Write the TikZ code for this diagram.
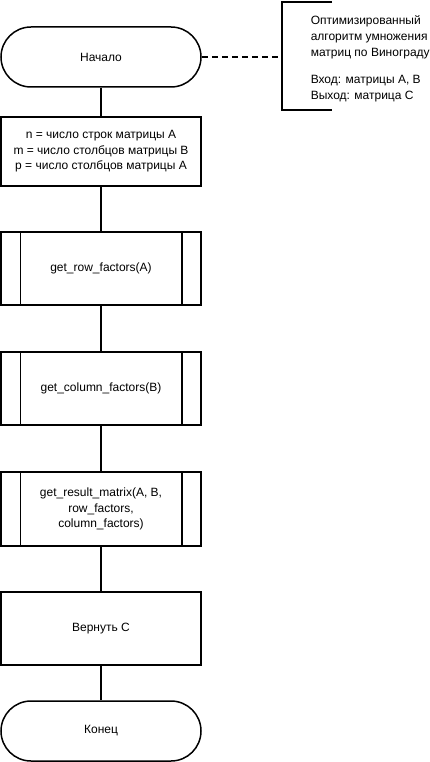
\documentclass[tikz,border=0pt]{standalone}
\usepackage{fontspec}
\setmainfont{Liberation Sans}
\begin{document}
\begin{tikzpicture}[x=1pt,y=-1pt,line width=1.5pt,
  every node/.style={font=\fontsize{12}{15}\selectfont},
  term/.style={draw,minimum width=200pt,minimum height=60pt,rounded corners=30pt,inner sep=0pt},
  procbox/.style={draw,minimum width=200pt,inner sep=0pt,align=center},
  subbox/.style={draw,minimum width=200pt,inner sep=0pt,align=center},
  link/.style={draw}]
\useasboundingbox (0,0) rectangle (429,762);
\node[term] (start) at (101,57) {Начало};
\node[procbox,minimum height=69pt] (init) at (101,151.5) {n = число строк матрицы A\\[0.5pt]m = число столбцов матрицы B\\[0.5pt]p = число столбцов матрицы A};
\node[subbox,minimum height=73pt] (s1) at (101,268.5) {get\_row\_factors(A)};
\node[subbox,minimum height=73pt] (s2) at (101,388.5) {get\_column\_factors(B)};
\node[subbox,minimum height=74pt] (s3) at (101,509) {get\_result\_matrix(A, B,\\[0.5pt]row\_factors,\\[0.5pt]column\_factors)};
\node[procbox,minimum height=73pt] (ret) at (101,628.5) {Вернуть C};
\node[term] (stop) at (101,731) {Конец};
\foreach \n in {s1,s2,s3}{
  \draw ([xshift=20pt]\n.north west) -- ([xshift=20pt]\n.south west);
  \draw ([xshift=-20pt]\n.north east) -- ([xshift=-20pt]\n.south east);
}
\draw[link] (start) -- (init);
\draw[link] (init) -- (s1);
\draw[link] (s1) -- (s2);
\draw[link] (s2) -- (s3);
\draw[link] (s3) -- (ret);
\draw[link] (ret) -- (stop);
\coordinate (ctop) at (332,2);
\coordinate (cbot) at (332,110);
\coordinate (cmid) at (282,57);
\draw (ctop) -- (282,2) -- (282,110) -- (cbot);
\draw[dashed,dash pattern=on 6pt off 4pt] (start.east) -- (cmid);
\node[anchor=north west,align=left,inner sep=0pt] (note) at (310,15) {Оптимизированный\\[1pt]алгоритм умножения\\[1pt]матриц по Винограду\\[12pt]Вход: матрицы A, B\\[1pt]Выход: матрица C};
\end{tikzpicture}
\end{document}
